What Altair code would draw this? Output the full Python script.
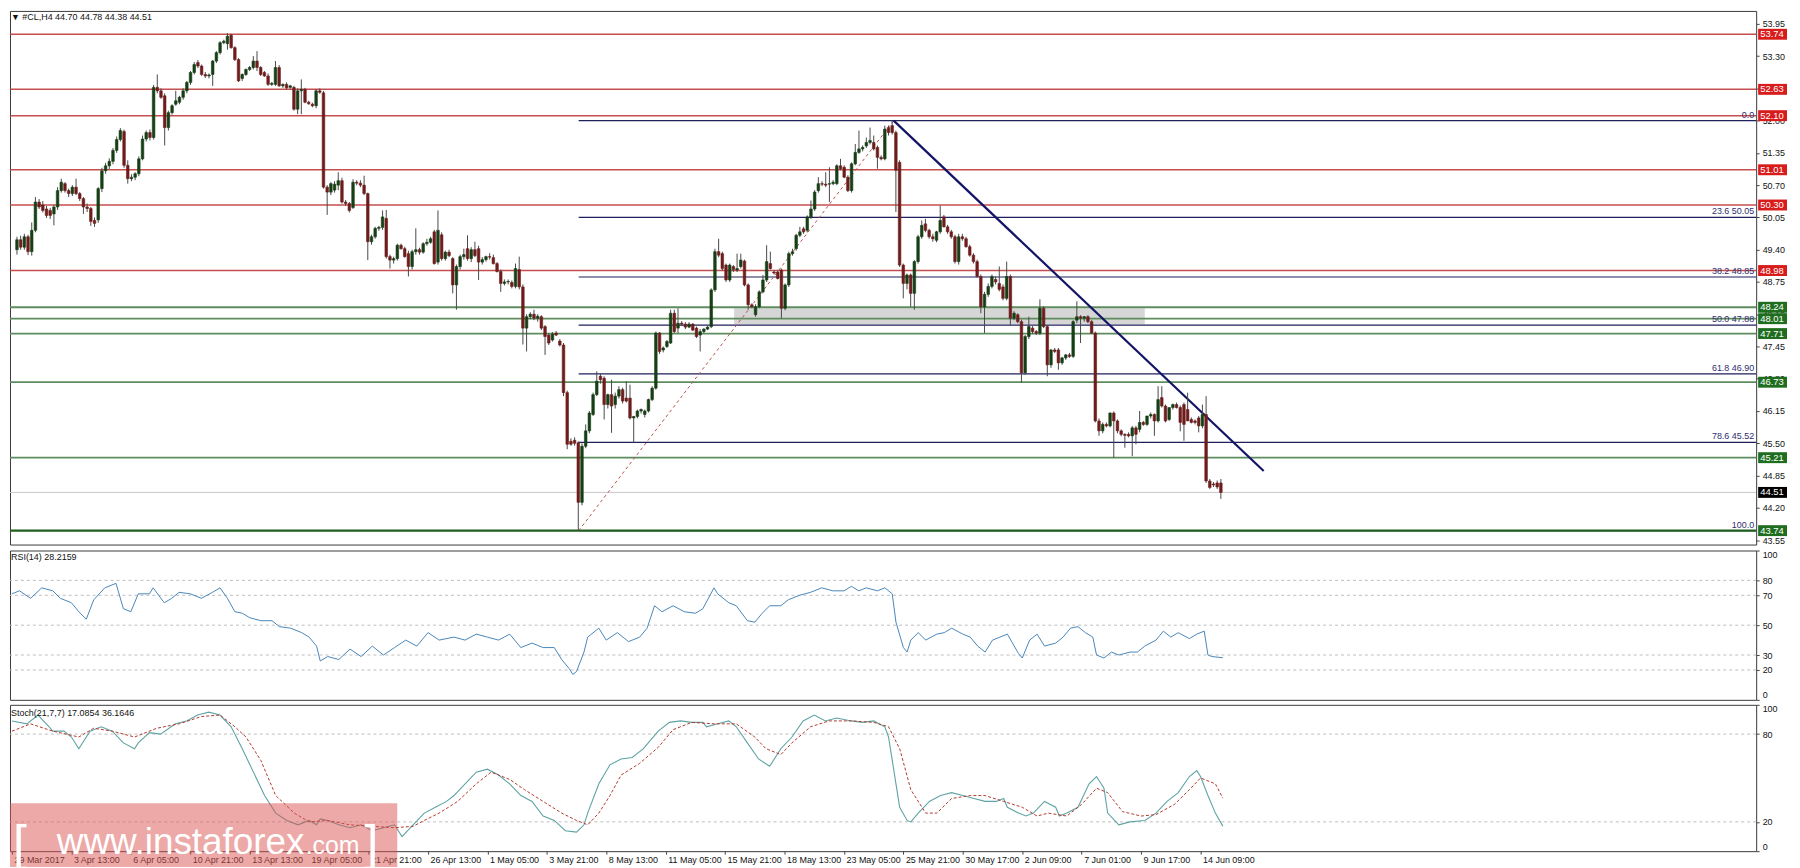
import json
import altair as alt
import pandas as pd

# ---------------- candles (open, high, low, close), #CL H4 ----------------
seg_1 = [  # bars 0-83
    (49.40, 49.66, 49.30, 49.60), (49.60, 49.68, 49.40, 49.45), (49.45, 49.72, 49.40, 49.66), (49.66, 49.70, 49.29, 49.36),
    (49.36, 49.95, 49.28, 49.79), (49.79, 50.46, 49.75, 50.36), (50.36, 50.42, 50.22, 50.26), (50.30, 50.38, 50.15, 50.19),
    (50.22, 50.28, 50.04, 50.09), (50.19, 50.24, 50.02, 50.09), (50.12, 50.30, 49.89, 50.26), (50.26, 50.66, 50.20, 50.59),
    (50.59, 50.83, 50.55, 50.76), (50.73, 50.76, 50.55, 50.59), (50.59, 50.63, 50.46, 50.53), (50.53, 50.70, 50.48, 50.66),
    (50.66, 50.83, 50.50, 50.53), (50.53, 50.56, 50.38, 50.43), (50.43, 50.46, 50.12, 50.26), (50.26, 50.33, 50.16, 50.23),
    (50.23, 50.26, 49.88, 49.97), (49.99, 50.05, 49.86, 49.93), (50.00, 50.66, 49.94, 50.63), (50.63, 51.05, 50.56, 50.99),
    (50.99, 51.15, 50.93, 51.09), (51.09, 51.24, 51.02, 51.18), (51.18, 51.45, 51.12, 51.40), (51.40, 51.68, 51.35, 51.62),
    (51.62, 51.85, 51.58, 51.80), (51.78, 51.82, 51.05, 51.10), (51.10, 51.20, 50.73, 50.83), (50.83, 50.92, 50.78, 50.86),
    (50.86, 50.96, 50.80, 50.93), (50.93, 51.28, 50.88, 51.23), (51.23, 51.70, 51.20, 51.63), (51.63, 51.80, 51.58, 51.76),
    (51.76, 51.82, 51.60, 51.66), (51.66, 52.72, 51.62, 52.67), (52.67, 52.93, 52.55, 52.60), (52.60, 52.65, 52.44, 52.47),
    (52.50, 52.55, 51.50, 51.86), (51.86, 52.20, 51.80, 52.16), (52.16, 52.33, 52.12, 52.30), (52.33, 52.60, 52.30, 52.40),
    (52.37, 52.50, 52.33, 52.47), (52.47, 52.65, 52.42, 52.60), (52.60, 52.80, 52.55, 52.77), (52.77, 53.00, 52.72, 52.97),
    (52.97, 53.18, 52.93, 53.13), (53.17, 53.22, 53.06, 53.10), (53.10, 53.13, 52.90, 52.93), (52.93, 52.98, 52.86, 52.90),
    (52.90, 52.95, 52.85, 52.92), (52.93, 53.22, 52.70, 53.20), (53.20, 53.40, 53.16, 53.37), (53.37, 53.60, 53.33, 53.57),
    (53.57, 53.63, 53.54, 53.60), (53.55, 53.76, 53.43, 53.70), (53.72, 53.75, 53.45, 53.47), (53.47, 53.50, 53.20, 53.23),
    (53.23, 53.26, 52.78, 52.80), (52.85, 52.95, 52.80, 52.93), (52.93, 53.05, 52.90, 53.03), (53.03, 53.10, 53.00, 53.07),
    (53.07, 53.30, 53.03, 53.20), (53.20, 53.40, 53.00, 53.07), (53.07, 53.10, 52.90, 52.93), (52.97, 53.00, 52.88, 52.90),
    (52.90, 52.95, 52.70, 52.73), (52.73, 52.78, 52.70, 52.75), (52.73, 53.20, 52.70, 53.07), (53.07, 53.12, 52.68, 52.70),
    (52.70, 52.75, 52.66, 52.73), (52.73, 52.77, 52.63, 52.66), (52.67, 52.72, 52.64, 52.70), (52.67, 52.70, 52.20, 52.23),
    (52.23, 52.65, 52.13, 52.60), (52.60, 52.83, 52.13, 52.63), (52.63, 52.66, 52.35, 52.37), (52.37, 52.40, 52.32, 52.34),
    (52.33, 52.36, 52.27, 52.30), (52.30, 52.63, 52.25, 52.60), (52.60, 52.65, 52.54, 52.57), (52.56, 52.60, 50.63, 50.66),
]
seg_2 = [  # bars 84-152
    (50.66, 50.70, 50.10, 50.56), (50.56, 50.76, 50.50, 50.73), (50.60, 50.78, 50.55, 50.72), (50.70, 50.96, 50.60, 50.79),
    (50.79, 50.85, 50.33, 50.36), (50.36, 50.40, 50.28, 50.33), (50.33, 50.36, 50.15, 50.19), (50.25, 50.82, 50.22, 50.76),
    (50.76, 50.80, 50.70, 50.74), (50.74, 50.80, 50.66, 50.70), (50.70, 50.89, 50.50, 50.53), (50.53, 50.55, 49.19, 49.56),
    (49.56, 49.70, 49.50, 49.66), (49.66, 49.86, 49.62, 49.83), (49.83, 49.88, 49.78, 49.85), (49.85, 50.19, 49.80, 50.06),
    (50.03, 50.20, 49.22, 49.26), (49.26, 49.30, 49.02, 49.19), (49.19, 49.26, 49.12, 49.22), (49.22, 49.52, 49.18, 49.49),
    (49.49, 49.52, 49.40, 49.42), (49.42, 49.46, 49.24, 49.26), (49.32, 49.38, 48.86, 49.06), (49.06, 49.40, 49.00, 49.36),
    (49.36, 49.83, 49.30, 49.40), (49.40, 49.44, 49.30, 49.35), (49.35, 49.55, 49.32, 49.52), (49.52, 49.62, 49.48, 49.55),
    (49.55, 49.66, 49.52, 49.62), (49.76, 49.80, 49.10, 49.12), (49.15, 50.19, 49.10, 49.79), (49.70, 49.75, 49.18, 49.22),
    (49.22, 49.38, 49.18, 49.35), (49.35, 49.40, 49.25, 49.28), (49.22, 49.25, 48.52, 48.69), (48.69, 49.10, 48.19, 49.06),
    (49.06, 49.30, 49.00, 49.26), (49.26, 49.42, 49.20, 49.30), (49.42, 49.69, 49.18, 49.22), (49.22, 49.45, 49.15, 49.40),
    (49.40, 49.56, 49.25, 49.28), (49.42, 49.48, 48.79, 49.15), (49.15, 49.25, 49.10, 49.20), (49.20, 49.28, 49.16, 49.26),
    (49.26, 49.33, 49.20, 49.25), (49.24, 49.30, 49.10, 49.12), (49.12, 49.15, 48.94, 48.96), (48.96, 49.00, 48.55, 48.72),
    (48.72, 48.80, 48.68, 48.75), (48.75, 48.80, 48.70, 48.76), (48.74, 48.78, 48.62, 48.66), (48.66, 49.12, 48.62, 49.02),
    (49.00, 49.26, 48.60, 48.65), (48.65, 48.70, 47.49, 47.82), (47.82, 48.10, 47.35, 48.05), (48.05, 48.14, 48.00, 48.10),
    (48.10, 48.19, 47.98, 48.02), (48.02, 48.10, 47.95, 48.06), (48.05, 48.08, 47.78, 47.82), (47.85, 47.88, 47.28, 47.65),
    (47.68, 47.72, 47.48, 47.52), (47.58, 47.74, 47.55, 47.70), (47.72, 47.76, 47.66, 47.68), (47.56, 47.60, 47.45, 47.48),
    (47.48, 47.52, 46.45, 46.52), (46.52, 46.56, 45.38, 45.48), (45.54, 45.60, 45.45, 45.48), (45.56, 45.62, 45.45, 45.50),
    (45.51, 45.54, 43.74, 44.31),
]
seg_3 = [  # bars 153-237
    (44.31, 45.50, 44.25, 45.44), (45.44, 45.88, 45.40, 45.75), (45.75, 46.15, 45.70, 46.11), (46.08, 46.52, 46.05, 46.48),
    (46.48, 46.95, 46.45, 46.75), (46.85, 46.90, 46.70, 46.78), (46.81, 46.85, 45.98, 46.28), (46.28, 46.50, 46.20, 46.48),
    (46.48, 46.78, 45.71, 46.25), (46.28, 46.52, 46.20, 46.45), (46.45, 46.65, 46.40, 46.58), (46.58, 46.62, 46.30, 46.35),
    (46.41, 46.75, 46.32, 46.35), (46.41, 46.68, 45.98, 46.01), (46.01, 46.05, 45.51, 46.04), (46.04, 46.18, 46.00, 46.15),
    (46.15, 46.20, 46.10, 46.18), (46.08, 46.18, 46.02, 46.15), (46.15, 46.40, 46.12, 46.38), (46.38, 46.65, 46.35, 46.61),
    (46.61, 47.75, 46.58, 47.72), (47.72, 47.74, 47.30, 47.35), (47.38, 47.45, 47.33, 47.42), (47.45, 47.58, 47.42, 47.55),
    (47.52, 48.19, 47.50, 48.12),
    (48.12, 48.19, 47.72, 47.75), (47.82, 48.22, 47.72, 47.92), (47.92, 47.96, 47.86, 47.90), (47.90, 47.94, 47.80, 47.84),
    (47.84, 47.94, 47.82, 47.90), (47.90, 47.92, 47.76, 47.78), (47.82, 47.85, 47.62, 47.65), (47.68, 47.80, 47.35, 47.75),
    (47.75, 47.82, 47.72, 47.80), (47.80, 47.86, 47.78, 47.84), (47.85, 48.62, 47.82, 48.59), (48.59, 49.42, 48.55, 49.36),
    (49.36, 49.62, 49.25, 49.29), (49.32, 49.36, 48.98, 49.02), (49.09, 49.12, 48.75, 48.79), (48.79, 49.12, 48.75, 49.09),
    (49.06, 49.09, 48.95, 49.00), (48.99, 49.32, 48.95, 49.02), (49.06, 49.32, 49.02, 49.19), (49.17, 49.20, 48.66, 48.69),
    (48.69, 48.72, 48.19, 48.29), (48.29, 48.32, 48.22, 48.25), (48.09, 48.30, 48.05, 48.25), (48.25, 48.58, 48.22, 48.55),
    (48.55, 48.89, 48.52, 48.79), (48.79, 49.49, 48.75, 49.16), (49.12, 49.36, 49.00, 49.02), (48.95, 48.99, 48.90, 48.93),
    (48.95, 48.99, 48.80, 48.82), (48.99, 49.02, 48.02, 48.22), (48.22, 48.72, 48.18, 48.69), (48.69, 49.36, 48.65, 49.32),
    (49.32, 49.42, 49.28, 49.36), (49.42, 49.72, 49.38, 49.69), (49.69, 49.86, 49.65, 49.76), (49.82, 49.86, 49.72, 49.76),
    (49.79, 50.09, 49.75, 50.06), (50.06, 50.39, 50.02, 50.22), (50.22, 50.60, 50.18, 50.56), (50.59, 50.86, 50.55, 50.73),
    (50.73, 50.78, 50.68, 50.72), (50.72, 50.96, 50.66, 50.70), (50.72, 51.06, 50.36, 50.73), (50.73, 50.80, 50.70, 50.76),
    (50.73, 51.12, 50.70, 51.09), (51.09, 51.23, 51.00, 51.03), (51.06, 51.10, 50.84, 50.86), (50.86, 50.90, 50.56, 50.59),
    (50.59, 51.16, 50.55, 51.13), (51.13, 51.53, 51.10, 51.36), (51.36, 51.80, 51.33, 51.43), (51.43, 51.50, 51.38, 51.46),
    (51.49, 51.66, 51.45, 51.56), (51.56, 51.86, 51.52, 51.60), (51.56, 51.70, 51.40, 51.43), (51.46, 51.50, 51.03, 51.26),
    (51.26, 51.30, 51.20, 51.23), (51.23, 51.90, 51.20, 51.83), (51.86, 51.90, 51.70, 51.76), (51.90, 52.00, 51.72, 51.76),
]
seg_4 = [  # bars 238-326
    (51.76, 51.80, 50.16, 51.00), (51.16, 51.20, 49.05, 49.09), (49.09, 49.12, 48.42, 48.72), (48.72, 48.92, 48.60, 48.89),
    (48.89, 48.92, 48.25, 48.52), (48.52, 49.19, 48.19, 49.16), (49.16, 49.70, 49.12, 49.66), (49.66, 49.99, 49.62, 49.89),
    (49.92, 50.02, 49.75, 49.79), (49.79, 49.82, 49.62, 49.66), (49.66, 49.72, 49.56, 49.62), (49.59, 49.78, 49.55, 49.76),
    (49.76, 50.29, 49.72, 49.99), (50.06, 50.10, 49.85, 49.86), (49.86, 49.90, 49.72, 49.76), (49.76, 49.80, 49.62, 49.66),
    (49.66, 49.70, 49.12, 49.16), (49.16, 49.72, 49.10, 49.66), (49.66, 49.72, 49.58, 49.62), (49.62, 49.66, 49.44, 49.46),
    (49.46, 49.50, 49.26, 49.29), (49.29, 49.33, 49.12, 49.16), (49.16, 49.20, 48.84, 48.86), (48.86, 48.90, 48.12, 48.25),
    (48.25, 48.55, 47.72, 48.50), (48.50, 48.72, 48.45, 48.66), (48.66, 48.90, 48.62, 48.86), (48.80, 48.86, 48.70, 48.75),
    (48.72, 49.06, 48.56, 48.60), (48.65, 48.70, 48.38, 48.42), (48.42, 49.16, 48.38, 48.86), (48.86, 48.90, 47.88, 48.02),
    (48.02, 48.16, 47.98, 48.12), (48.09, 48.12, 47.92, 47.95), (47.95, 47.99, 46.72, 46.92), (46.92, 47.68, 46.88, 47.65),
    (47.65, 48.05, 47.60, 47.85), (47.82, 47.86, 47.70, 47.75), (47.75, 47.78, 47.68, 47.72), (47.72, 48.40, 47.68, 48.22),
    (48.22, 48.26, 47.82, 47.85), (47.85, 47.88, 46.85, 47.08), (47.08, 47.40, 47.02, 47.38), (47.38, 47.42, 47.32, 47.35),
    (47.38, 47.42, 46.98, 47.12), (47.12, 47.24, 47.08, 47.22), (47.22, 47.30, 47.18, 47.28), (47.28, 47.32, 47.22, 47.25),
    (47.25, 47.98, 47.22, 47.95), (47.98, 48.36, 47.92, 48.05), (48.05, 48.08, 47.52, 48.02), (48.02, 48.06, 47.95, 48.05),
    (48.05, 48.08, 47.92, 47.95), (47.95, 47.98, 47.70, 47.72), (47.72, 47.75, 45.92, 45.95),
    (45.95, 46.00, 45.65, 45.75), (45.75, 45.92, 45.70, 45.88), (45.88, 45.92, 45.82, 45.85), (45.85, 46.12, 45.82, 46.11),
    (46.11, 46.14, 45.21, 45.95), (45.95, 45.98, 45.70, 45.75), (45.75, 45.78, 45.64, 45.68), (45.68, 45.70, 45.41, 45.66),
    (45.68, 45.72, 45.62, 45.65), (45.65, 45.85, 45.24, 45.81), (45.81, 45.85, 45.48, 45.68), (45.78, 46.15, 45.72, 45.92),
    (45.92, 45.95, 45.85, 45.88), (45.88, 46.05, 45.85, 46.05), (46.05, 46.12, 46.00, 46.08), (46.08, 46.10, 45.65, 45.95),
    (45.95, 46.65, 45.92, 46.38), (46.42, 46.65, 46.22, 46.25), (46.25, 46.28, 45.92, 45.95), (45.98, 46.22, 45.95, 46.22),
    (46.22, 46.30, 46.18, 46.28), (46.28, 46.32, 46.20, 46.22), (46.22, 46.26, 45.74, 45.92), (46.28, 46.32, 45.55, 45.88),
    (46.18, 46.52, 45.95, 45.95), (45.98, 46.02, 45.90, 45.92), (45.95, 45.98, 45.88, 45.92), (46.01, 46.05, 45.72, 45.85),
    (45.85, 46.28, 45.80, 46.08), (46.08, 46.45, 44.70, 44.74), (44.74, 44.78, 44.58, 44.61), (44.68, 44.72, 44.62, 44.66),
    (44.70, 44.75, 44.58, 44.62), (44.70, 44.78, 44.38, 44.51),
]

# ---------------- levels / annotations ----------------
red_levels = [53.74, 52.63, 52.10, 51.01, 50.30, 48.98]
green_levels = [48.24, 48.01, 47.71, 46.73, 45.21, 43.74]
last_price = [44.51]
fib_labels = ["0.0", "23.6 50.05", "38.2 48.85", "50.0 47.88", "61.8 46.90", "78.6 45.52", "100.0"]
fib_prices = [52.00, 50.05, 48.85, 47.88, 46.90, 45.52, 43.74]
fib_start_bar = [152.1] * 7
fib_diag_bar = [152.1, 237.4]
fib_diag_price = [43.74, 52.00]
trend_bar = [237.4, 337.6]
trend_price = [52.00, 44.94]
zone_bar = [194.2, 305.4]
zone_price = [47.90, 48.22]
price_ticks = [43.55, 44.20, 44.85, 45.50, 46.15, 46.80, 47.45, 48.10, 48.75, 49.40,
               50.05, 50.70, 51.35, 52.00, 52.65, 53.30, 53.95]

# ---------------- RSI(14) ----------------
rsi_bar = [0, 2, 5, 8, 11, 13, 16, 18, 20, 22, 25, 28, 30, 32, 34, 37, 38, 41, 43, 45, 48, 51, 54, 56, 58, 60,
           62, 64, 67, 70, 72, 75, 78, 80, 82, 83, 85, 88, 91, 94, 97, 100, 103, 106, 109, 112, 115, 119, 122,
           125, 128, 131, 134, 137, 140, 143, 146, 148, 150, 151, 152, 154, 155, 158, 160, 163, 166, 169, 171,
           173, 175, 178, 181, 184, 186, 189, 190, 193, 195, 198, 200, 202, 204, 207, 209, 212, 215, 218, 221,
           224, 226, 228, 230, 233, 235, 237, 238, 240, 241, 242, 244, 246, 249, 251, 253, 256, 258, 260, 262,
           264, 266, 268, 271, 272, 274, 276, 278, 281, 283, 285, 287, 289, 291, 292, 294, 296, 298, 301, 303,
           305, 308, 310, 312, 314, 317, 319, 321, 322, 323, 326]
rsi_val = [71, 73, 68, 75, 73, 68, 65, 59, 54, 67, 75, 78, 61, 59, 71, 71, 75, 65, 68, 72, 71, 68, 72, 75, 68, 59,
           58, 55, 53, 53, 49, 48, 45, 42, 36, 26, 29, 27, 34, 29, 36, 30, 35, 40, 36, 45, 40, 42, 40,
           44, 42, 40, 44, 35, 38, 35, 35, 27, 21, 17, 19, 32, 42, 48, 40, 45, 39, 42, 48,
           63, 59, 63, 59, 58, 61, 75, 71, 65, 63, 53, 52, 58, 63, 63, 67, 70, 72, 75, 73,
           73, 76, 73, 75, 73, 75, 71, 52, 35, 32, 40, 45, 40, 44, 45, 48, 44, 42, 36, 32,
           40, 42, 44, 31, 28, 40, 44, 36, 38, 42, 48, 49, 45, 42, 30, 28, 32, 30, 32, 32,
           36, 40, 46, 42, 45, 41, 44, 46, 30, 29, 28.2]
rsi_levels = [80, 70, 50, 30, 20]
rsi_ticks = [0, 20, 30, 50, 70, 80, 100]

# ---------------- Stochastic(21,7,7) ----------------
k_bar = [0, 4, 7, 10, 11, 14, 16, 18, 21, 24, 27, 30, 33, 34, 37, 40, 44, 47, 50, 53, 56, 59, 62, 65, 68, 71,
         74, 77, 80, 82, 83, 85, 88, 91, 94, 97, 100, 103, 105, 108, 111, 114, 117, 119, 122, 125, 128, 131,
         134, 137, 140, 143, 146, 149, 152, 154, 155, 158, 161, 164, 167, 170, 174, 177, 180, 183, 186, 187,
         190, 193, 195, 198, 201, 204, 207, 210, 213, 216, 219, 222, 226, 229, 232, 235, 236, 238, 239, 241,
         242, 244, 247, 250, 253, 256, 259, 262, 265, 267, 268, 271, 273, 275, 278, 281, 282, 284, 287, 290,
         292, 294, 295, 298, 301, 305, 308, 311, 314, 317, 319, 320, 322, 324, 326]
k_val = [89, 87, 93, 85, 82, 82, 78, 70, 82, 85, 82, 74, 70, 74, 81, 80, 87, 89, 93, 95, 93, 85, 70, 54, 38, 26,
         21, 18, 21, 18, 22, 21, 18, 16, 18, 14, 16, 18, 10, 18, 26, 30, 34, 38, 46, 54, 56, 52,
         46, 38, 34, 24, 21, 14, 13, 18, 26, 46, 59, 63, 64, 70, 82, 88, 89, 88, 88, 85,
         87, 89, 85, 74, 63, 58, 70, 78, 89, 93, 89, 91, 89, 88, 89, 85, 78, 46, 30, 21,
         20, 26, 34, 38, 40, 38, 36, 34, 34, 36, 30, 26, 24, 26, 34, 30, 24, 26, 30, 46,
         51, 43, 26, 18, 20, 21, 26, 34, 40, 51, 55, 51, 38, 26, 17.1]
d_bar = [0, 5, 11, 18, 22, 27, 33, 39, 45, 51, 56, 60, 63, 67, 71, 76, 80, 85, 91, 97, 103, 108, 111, 115,
         120, 125, 129, 134, 138, 143, 148, 152, 155, 158, 161, 164, 169, 174, 178, 183, 189, 195, 200, 203,
         207, 210, 215, 220, 226, 232, 236, 239, 242, 246, 249, 253, 258, 262, 267, 272, 276, 279, 284, 288,
         292, 295, 299, 304, 308, 313, 317, 320, 324, 326]
d_val = [82, 87, 82, 78, 84, 82, 78, 84, 87, 92, 93, 85, 78, 62, 38, 26, 20, 21, 18, 17, 16, 17, 21, 26,
         34, 46, 54, 49, 42, 34, 26, 21, 18, 26, 38, 52, 60, 71, 83, 88, 87, 87, 78, 70,
         66, 74, 85, 89, 89, 88, 85, 70, 42, 26, 26, 36, 38, 38, 34, 30, 24, 26, 24, 32,
         43, 40, 27, 24, 25, 32, 42, 50, 46, 36.2]
sto_levels = [80, 20]
sto_ticks = [0, 20, 80, 100]

# ---------------- time axis ----------------
x_label_bars = [0, 16, 32, 48, 64, 80, 96, 112, 128, 144, 160, 176, 192, 208, 224, 240, 256, 272, 288, 304, 320]
x_labels = ["29 Mar 2017", "3 Apr 13:00", "6 Apr 05:00", "10 Apr 21:00", "13 Apr 13:00", "19 Apr 05:00",
            "21 Apr 21:00", "26 Apr 13:00", "1 May 05:00", "3 May 21:00", "8 May 13:00", "11 May 05:00",
            "15 May 21:00", "18 May 13:00", "23 May 05:00", "25 May 21:00", "30 May 17:00", "2 Jun 09:00",
            "7 Jun 01:00", "9 Jun 17:00", "14 Jun 09:00"]

main_title = ["\u25BC #CL,H4  44.70 44.78 44.38 44.51"]
rsi_title = ["RSI(14) 28.2159"]
sto_title = ["Stoch(21,7,7) 17.0854 36.1646"]
watermark = ["[", "www.instaforex", ".com", "]"]

# ---------------- build ----------------
FONT = "Liberation Sans"
W = 1754
H_MAIN, H_RSI, H_STO = 536, 150, 147
xs = alt.Scale(domain=[-0.54, 469.6], nice=False, zero=False)
ys = alt.Scale(domain=[43.46, 54.21], nice=False, zero=False)

rows = seg_1 + seg_2 + seg_3 + seg_4
candles = pd.DataFrame({
    "bar": list(range(len(rows))),
    "open": [r[0] for r in rows],
    "high": [r[1] for r in rows],
    "low": [r[2] for r in rows],
    "close": [r[3] for r in rows],
})
candles["dir"] = ["up" if c >= o else "down" for o, c in zip(candles["open"], candles["close"])]

main_axis = alt.Axis(orient="right", values=price_ticks, format=".2f", title=None, labelFlush=False)


def Y(field):
    return alt.Y(field, type="quantitative", scale=ys, axis=main_axis)


def X(field):
    return alt.X(field, type="quantitative", scale=xs, axis=None)


zone = alt.Chart(pd.DataFrame({"b0": [zone_bar[0]], "b1": [zone_bar[1]],
                               "p0": [zone_price[0]], "p1": [zone_price[1]]})).mark_rect(
    color="#d6d6d6").encode(x=X("b0"), x2="b1:Q", y=Y("p0"), y2="p1:Q")

red_lines = alt.Chart(pd.DataFrame({"p": red_levels})).mark_rule(
    color="#bf3b3b", strokeWidth=1.5, opacity=0.9).encode(y=Y("p"))
green_lines = alt.Chart(pd.DataFrame({"p": green_levels[:-1]})).mark_rule(
    color="#5e8c5e", strokeWidth=1.8).encode(y=Y("p"))
low_line = alt.Chart(pd.DataFrame({"p": green_levels[-1:]})).mark_rule(
    color="#1f5f1f", strokeWidth=2.2).encode(y=Y("p"))
last_line = alt.Chart(pd.DataFrame({"p": last_price})).mark_rule(
    color="#c8c8c8", strokeWidth=1).encode(y=Y("p"))

fib_df = pd.DataFrame({"b": fib_start_bar, "p": fib_prices, "t": fib_labels})
fib_lines = alt.Chart(fib_df).mark_rule(color="#1f1f5c", strokeWidth=1.2).encode(
    x=X("b"), x2=alt.value(W), y=Y("p"))
fib_text = alt.Chart(fib_df).mark_text(
    align="right", baseline="bottom", dy=-1, fontSize=9, font=FONT, color="#2e2e6e").encode(
    x=alt.value(W - 2), y=Y("p"), text="t:N")

diag = alt.Chart(pd.DataFrame({"b": fib_diag_bar, "p": fib_diag_price})).mark_line(
    color="#b5524a", strokeWidth=1, strokeDash=[3, 3]).encode(x=X("b"), y=Y("p"))
trend = alt.Chart(pd.DataFrame({"b": trend_bar, "p": trend_price})).mark_line(
    color="#141466", strokeWidth=2.2).encode(x=X("b"), y=Y("p"))

cscale = alt.Scale(domain=["up", "down"], range=["#163f16", "#6e1c1c"])
wicks = alt.Chart(candles).mark_rule(color="#4a4a4a", strokeWidth=1).encode(
    x=X("bar"), y=Y("low"), y2="high:Q")
bodies = alt.Chart(candles).mark_bar(size=2.6, strokeWidth=0.6).encode(
    x=X("bar"), y=Y("open"), y2="close:Q",
    color=alt.Color("dir:N", scale=cscale, legend=None),
    stroke=alt.Stroke("dir:N", scale=cscale, legend=None))


def tag_layers(levels, fill):
    df = pd.DataFrame({"p": levels})
    rect = alt.Chart(df).transform_calculate(
        top="datum.p + 0.11", bot="datum.p - 0.11").mark_rect(color=fill).encode(
        x=alt.value(W + 2), x2=alt.value(W + 31), y=Y("top:Q"), y2="bot:Q")
    txt = alt.Chart(df).transform_calculate(lbl="format(datum.p, '.2f')").mark_text(
        align="left", baseline="middle", fontSize=9.5, font=FONT, color="white").encode(
        x=alt.value(W + 4), y=Y("p"), text="lbl:N")
    return [rect, txt]


title_main = alt.Chart(pd.DataFrame({"t": main_title})).mark_text(
    align="left", baseline="middle", fontSize=9, font=FONT, color="#111").encode(
    x=alt.value(1), y=alt.value(6), text="t:N")

main = alt.layer(
    zone, red_lines, green_lines, last_line, fib_lines, low_line, diag, trend, wicks, bodies, fib_text,
    *tag_layers(red_levels, "#d81b1b"), *tag_layers(green_levels, "#1f6e1f"), *tag_layers(last_price, "#000000"),
    title_main,
).properties(width=W, height=H_MAIN)

# RSI panel
rs = alt.Scale(domain=[0, 100], nice=False, zero=False)
rsi_axis = alt.Axis(orient="right", values=rsi_ticks, format="d", title=None, labelFlush=True)
rsi_grid = alt.Chart(pd.DataFrame({"v": rsi_levels})).mark_rule(
    color="#bdbdbd", strokeDash=[3, 3], strokeWidth=1).encode(y=alt.Y("v:Q", scale=rs, axis=rsi_axis))
rsi_line = alt.Chart(pd.DataFrame({"b": rsi_bar, "v": rsi_val})).mark_line(
    color="#4a86b8", strokeWidth=1).encode(x=X("b"), y=alt.Y("v:Q", scale=rs, axis=rsi_axis))
rsi_txt = alt.Chart(pd.DataFrame({"t": rsi_title})).mark_text(
    align="left", baseline="middle", fontSize=9, font=FONT, color="#111").encode(
    x=alt.value(1), y=alt.value(7), text="t:N")
rsi = alt.layer(rsi_grid, rsi_line, rsi_txt).properties(width=W, height=H_RSI)

# Stochastic panel
label_expr = json.dumps(x_labels) + "[round(datum.value / 16)]"
x_axis = alt.Axis(values=x_label_bars, labelExpr=label_expr, title=None, labelAlign="left",
                  labelOffset=2, labelPadding=1, tickSize=3, labelOverlap=False, labelFlush=False)
sto_axis = alt.Axis(orient="right", values=sto_ticks, format="d", title=None, labelFlush=True)
sto_grid = alt.Chart(pd.DataFrame({"v": sto_levels})).mark_rule(
    color="#bdbdbd", strokeDash=[3, 3], strokeWidth=1).encode(y=alt.Y("v:Q", scale=rs, axis=sto_axis))
k_line = alt.Chart(pd.DataFrame({"b": k_bar, "v": k_val})).mark_line(
    color="#5fa3a3", strokeWidth=1.1).encode(
    x=alt.X("b:Q", scale=xs, axis=x_axis), y=alt.Y("v:Q", scale=rs, axis=sto_axis))
d_line = alt.Chart(pd.DataFrame({"b": d_bar, "v": d_val})).mark_line(
    color="#b03a2e", strokeWidth=1, strokeDash=[3, 2]).encode(
    x=alt.X("b:Q", scale=xs, axis=x_axis), y=alt.Y("v:Q", scale=rs, axis=sto_axis))
sto_txt = alt.Chart(pd.DataFrame({"t": sto_title})).mark_text(
    align="left", baseline="middle", fontSize=9, font=FONT, color="#111").encode(
    x=alt.value(1), y=alt.value(8), text="t:N")

wm_font = "Liberation Sans"
wm_rect = alt.Chart(pd.DataFrame({"t": ["wm"]})).mark_rect(color="#d9534f", opacity=0.5).encode(
    x=alt.value(0), x2=alt.value(389), y=alt.value(99), y2=alt.value(163))
wm_df = pd.DataFrame({"t": watermark})
wm_open = alt.Chart(wm_df.iloc[[0]]).mark_text(
    align="left", baseline="alphabetic", fontSize=50, font=wm_font, fontWeight=300, color="white").encode(
    x=alt.value(3), y=alt.value(156), text="t:N")
wm_main = alt.Chart(wm_df.iloc[[1]]).mark_text(
    align="left", baseline="alphabetic", fontSize=37, font=wm_font, color="white").encode(
    x=alt.value(47), y=alt.value(150), text="t:N")
wm_com = alt.Chart(wm_df.iloc[[2]]).mark_text(
    align="left", baseline="alphabetic", fontSize=25, font=wm_font, color="white").encode(
    x=alt.value(297), y=alt.value(150), text="t:N")
wm_close = alt.Chart(wm_df.iloc[[3]]).mark_text(
    align="left", baseline="alphabetic", fontSize=50, font=wm_font, fontWeight=300, color="white").encode(
    x=alt.value(356), y=alt.value(156), text="t:N")

sto = alt.layer(sto_grid, k_line, d_line, sto_txt, wm_rect, wm_open, wm_main, wm_com, wm_close).properties(
    width=W, height=H_STO)

chart = alt.vconcat(main, rsi, sto, spacing=3).properties(
    padding={"left": 0, "top": 0, "right": 4, "bottom": 0}, background="white"
).configure_view(stroke="#3a3a3a", strokeWidth=1).configure_axis(
    labelFont=FONT, labelFontSize=9, labelColor="#111", tickColor="#444", tickSize=3,
    labelPadding=3, domain=False, grid=False
)

chart.save("out.html", embed_options={"renderer": "svg", "actions": False})
